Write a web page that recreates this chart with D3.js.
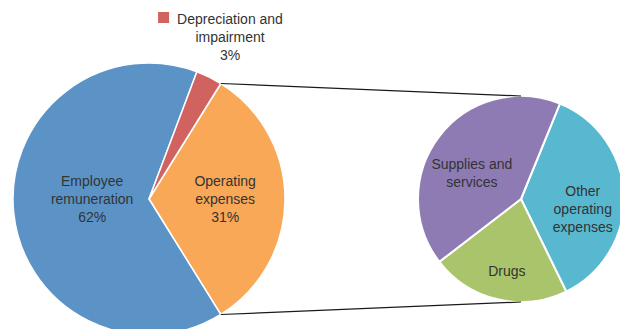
<!DOCTYPE html>
<html>
<head>
<meta charset="utf-8">
<script src="https://cdn.jsdelivr.net/npm/d3@7"></script>
<style>
  html, body { margin: 0; padding: 0; background: #fff; }
  svg { display: block; }
  text { font-family: "Liberation Sans", Arial, sans-serif; font-size: 14px; fill: #333; }
</style>
</head>
<body>
<svg id="chart" width="620" height="329"></svg>
<script>
// Main pie: share of total expenditure (%)
const mainCategories = ["Operating expenses", "Employee remuneration", "Depreciation and impairment"];
const mainValues = [31, 62, 3];
const mainLabelLines = [["Operating", "expenses", "31%"], ["Employee", "remuneration", "62%"], ["Depreciation and", "impairment", "3%"]];
const mainColors = ["#F9A857", "#5B93C7", "#D0625F"];

// Secondary pie: breakdown of operating expenses (%)
const subCategories = ["Other operating expenses", "Drugs", "Supplies and services"];
const subValues = [36.6, 21.8, 41.6];
const subLabelLines = [["Other", "operating", "expenses"], ["Drugs"], ["Supplies and", "services"]];
const subColors = ["#58B8D0", "#AAC46B", "#8F7BB3"];

const svg = d3.select("#chart");
const lineH = 18;

// ---- main pie ----
const mainCx = 149, mainCy = 199, mainR = 136;
const total = d3.sum(mainValues);
const opShare = mainValues[0] / total * 2 * Math.PI;
// operating-expenses slice is centred on the right-hand side, facing the secondary pie
const mainPie = d3.pie().sort(null).value(d => d)
  .startAngle(Math.PI / 2 - opShare / 2)
  .endAngle(Math.PI / 2 - opShare / 2 + 2 * Math.PI);
const mainArcs = mainPie(mainValues);
const mainArc = d3.arc().innerRadius(0).outerRadius(mainR);

const gMain = svg.append("g").attr("transform", `translate(${mainCx},${mainCy})`);
gMain.selectAll("path").data(mainArcs).join("path")
  .attr("d", mainArc)
  .attr("fill", (d, i) => mainColors[i])
  .attr("stroke", "#fff").attr("stroke-width", 1.5).attr("stroke-linejoin", "round");

// ---- secondary pie ----
const subCx = 521, subCy = 199, subR = 103;
const subPie = d3.pie().sort(null).value(d => d)
  .startAngle(22.2 * Math.PI / 180)
  .endAngle(22.2 * Math.PI / 180 + 2 * Math.PI);
const subArcs = subPie(subValues);
const subArc = d3.arc().innerRadius(0).outerRadius(subR);

const gSub = svg.append("g").attr("transform", `translate(${subCx},${subCy})`);
gSub.selectAll("path").data(subArcs).join("path")
  .attr("d", subArc)
  .attr("fill", (d, i) => subColors[i])
  .attr("stroke", "#fff").attr("stroke-width", 2).attr("stroke-linejoin", "round");

// ---- connector lines from the operating-expenses slice edges to the secondary pie ----
const op = mainArcs[0];
const edge = a => [mainCx + mainR * Math.sin(a), mainCy - mainR * Math.cos(a)];
const p1 = edge(op.startAngle), p2 = edge(op.endAngle);
svg.append("line")
  .attr("x1", p1[0]).attr("y1", p1[1]).attr("x2", subCx).attr("y2", subCy - subR)
  .attr("stroke", "#1a1a1a").attr("stroke-width", 1.2);
svg.append("line")
  .attr("x1", p2[0]).attr("y1", p2[1]).attr("x2", subCx).attr("y2", subCy + subR)
  .attr("stroke", "#1a1a1a").attr("stroke-width", 1.2);

// ---- labels ----
function multiline(g, lines, x, y) {
  const t = g.append("text").attr("text-anchor", "middle")
    .attr("x", x).attr("y", y - (lines.length - 1) * lineH / 2);
  lines.forEach((l, i) => t.append("tspan").attr("x", x).attr("dy", i === 0 ? "0.35em" : lineH).text(l));
  return t;
}

// main slices: labels sit on the horizontal midline, the large slice's closer to the centre
mainArcs.forEach((d, i) => {
  if (i === 2) return;
  const share = d.value / total;
  const rr = mainR * (share > 0.5 ? 0.42 : 0.56);
  const a = (d.startAngle + d.endAngle) / 2;
  multiline(gMain, mainLabelLines[i], rr * Math.sin(a), 0);
});

// small slice: label above the pie with a colour key
const depLabel = multiline(svg, mainLabelLines[2], 230, 37);
const depFirst = depLabel.select("tspan").node().getComputedTextLength();
svg.append("rect")
  .attr("x", 230 - depFirst / 2 - 19).attr("y", 12).attr("width", 11).attr("height", 11)
  .attr("fill", mainColors[2]);

// secondary slices
subArcs.forEach((d, i) => {
  const a = (d.startAngle + d.endAngle) / 2;
  const rr = subR * 0.6;
  multiline(gSub, subLabelLines[i], rr * Math.sin(a), -rr * Math.cos(a) + 12);
});
</script>
</body>
</html>
